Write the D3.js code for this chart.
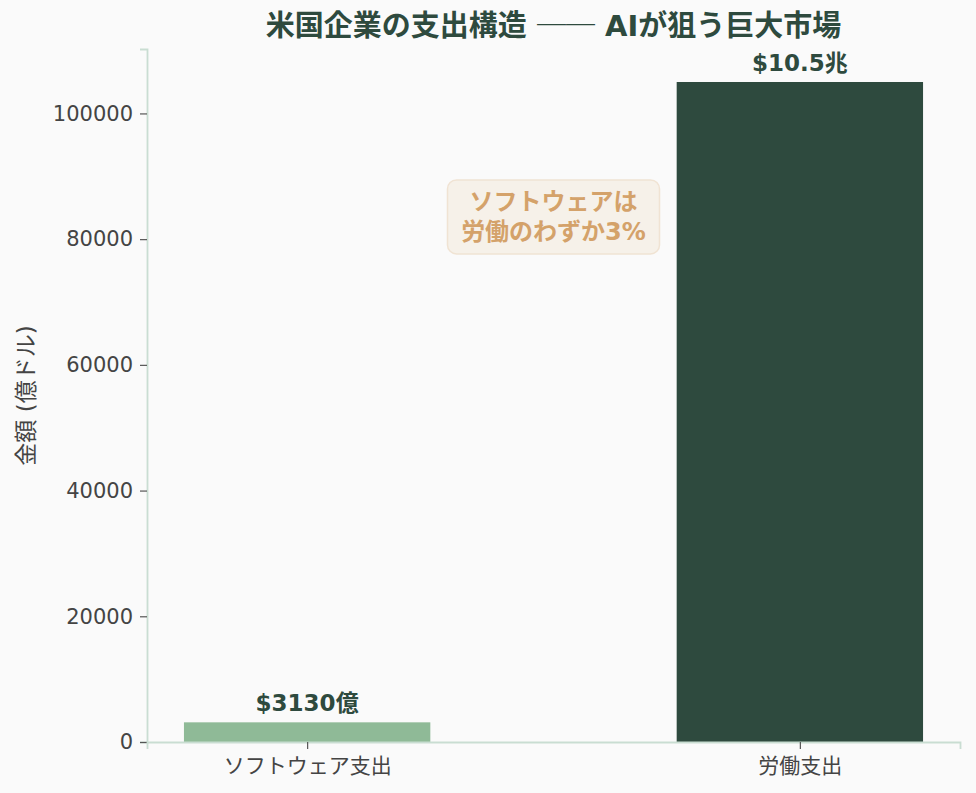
<!DOCTYPE html>
<html>
<head>
<meta charset="utf-8">
<script src="https://cdn.jsdelivr.net/npm/d3@7.9.0/dist/d3.min.js"></script>
<style>
  body { margin: 0; background: #fafafa; }
  svg text { font-family: "DejaVu Sans", "Noto Sans CJK JP", sans-serif; }
</style>
</head>
<body>
<svg id="chart" width="976" height="793"></svg>
<script>
const categories = ["ソフトウェア支出", "労働支出"];
const values = [3130, 105000];
const valueLabels = ["$3130億", "$10.5兆"];
const barColors = ["#8fba97", "#2e4a3e"];
const yTicks = [0, 20000, 40000, 60000, 80000, 100000];

const svg = d3.select("#chart");
const margin = { left: 147, right: 16, top: 49, bottom: 51 };
const W = 976, H = 793;

// bars at 0 and 1, width 0.5, 5% padding on each side
const x = d3.scaleLinear().domain([-0.325, 1.325]).range([margin.left, W - margin.right]);
const y = d3.scaleLinear().domain([0, 105000 * 1.05]).range([H - margin.bottom, margin.top]);
const barW = 0.5;

svg.append("rect").attr("width", W).attr("height", H).attr("fill", "#fafafa");

svg.selectAll(".bar")
  .data(values)
  .join("rect")
  .attr("class", "bar")
  .attr("x", (d, i) => x(i - barW / 2))
  .attr("width", x(barW) - x(0))
  .attr("y", d => y(d))
  .attr("height", d => y(0) - y(d))
  .attr("fill", (d, i) => barColors[i]);

svg.selectAll(".vlabel")
  .data(values)
  .join("text")
  .attr("class", "vlabel")
  .attr("x", (d, i) => x(i))
  .attr("y", d => y(d) - 11)
  .attr("text-anchor", "middle")
  .attr("font-size", 23)
  .attr("font-weight", "bold")
  .attr("fill", "#2e4a3e")
  .text((d, i) => valueLabels[i]);

// axes
const yAxis = svg.append("g")
  .attr("transform", `translate(${margin.left},0)`)
  .call(d3.axisLeft(y).tickValues(yTicks).tickFormat(d3.format("d")).tickSize(7).tickPadding(7));
const xAxis = svg.append("g")
  .attr("transform", `translate(0,${H - margin.bottom})`)
  .call(d3.axisBottom(x).tickValues([0, 1]).tickFormat(i => categories[i]).tickSize(7).tickPadding(9));

[yAxis, xAxis].forEach(g => {
  g.select(".domain").attr("stroke", "#c9ddd2").attr("stroke-width", 1.8);
  g.selectAll(".tick line").attr("stroke", "#555").attr("stroke-width", 1.2);
  g.selectAll(".tick text").attr("font-size", 21).attr("fill", "#444")
    .style("font-family", "'DejaVu Sans', 'Noto Sans CJK JP', sans-serif");
});

// y label
svg.append("text")
  .attr("transform", `translate(34,${(margin.top + H - margin.bottom) / 2}) rotate(-90)`)
  .attr("text-anchor", "middle")
  .attr("font-size", 23)
  .attr("fill", "#444")
  .text("金額 (億ドル)");

// title
const title = svg.append("text")
  .attr("x", (margin.left + W - margin.right) / 2)
  .attr("y", 36)
  .attr("text-anchor", "middle")
  .attr("font-size", 29)
  .attr("font-weight", "bold")
  .attr("fill", "#2e4a3e");
title.append("tspan").text("米国企業の支出構造 ");
title.append("tspan").style("font-family", "'Noto Sans CJK JP'").attr("font-weight", "normal").text("──");
title.append("tspan").text(" AIが狙う巨大市場");

// annotation
const ax = x(0.5), ay = y(83700);
const ann = svg.append("g");
ann.append("rect")
  .attr("x", ax - 106).attr("y", ay - 36)
  .attr("width", 212).attr("height", 74)
  .attr("rx", 9)
  .attr("fill", "#f6f1e9")
  .attr("stroke", "#f0e3d3")
  .attr("stroke-width", 1.5);
ann.selectAll("text")
  .data(["ソフトウェアは", "労働のわずか3%"])
  .join("text")
  .attr("x", ax)
  .attr("y", (d, i) => ay - 6 + i * 30)
  .attr("text-anchor", "middle")
  .attr("font-size", 24)
  .attr("font-weight", "bold")
  .attr("fill", "#d4a26a")
  .text(d => d);
</script>
</body>
</html>
